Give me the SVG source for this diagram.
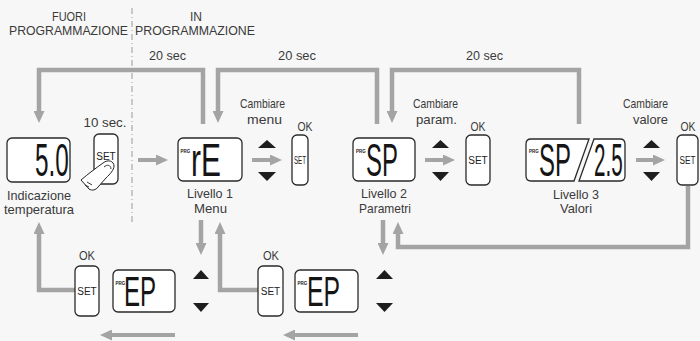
<svg xmlns="http://www.w3.org/2000/svg" width="700" height="341" viewBox="0 0 700 341">
<defs>
<style>
.lbl{font-family:"Liberation Sans",Arial,sans-serif;font-size:13px;fill:#3a3a3a;text-anchor:middle}
.set{font-family:"Liberation Sans",Arial,sans-serif;font-size:10px;fill:#222;text-anchor:middle}
.prg{font-family:"Liberation Sans",Arial,sans-serif;font-size:4.5px;font-weight:bold;fill:#222}
.seg{font-family:"Liberation Sans",Arial,sans-serif;font-size:46px;fill:#151515}
.seg2{font-family:"Liberation Sans",Arial,sans-serif;font-size:43px;fill:#151515}
.disp{fill:#fff;stroke:#2a2a2a;stroke-width:1.3}
.btn{fill:#fff;stroke:#2a2a2a;stroke-width:1.3}
.tri{fill:#1e1e1e}
.conn{fill:none;stroke:#a4a4a4;stroke-width:4.5;marker-end:url(#ah)}
.sm{stroke-width:4}
</style>
<marker id="ah" viewBox="0 0 12 11" refX="0.5" refY="5.5" markerWidth="12" markerHeight="11" markerUnits="userSpaceOnUse" orient="auto">
<path d="M0,0 L12,5.5 L0,11 Z" fill="#a4a4a4"/>
</marker>
</defs>
<rect width="700" height="341" fill="#f7f7f7"/>

<g id="header">
<line x1="132" y1="8" x2="132" y2="222" stroke="#9a9a9a" stroke-width="1" stroke-dasharray="6,3,1,3"/>
<text class="lbl" x="69" y="21" textLength="34" lengthAdjust="spacingAndGlyphs">FUORI</text>
<text class="lbl" x="68.5" y="35" textLength="119" lengthAdjust="spacingAndGlyphs">PROGRAMMAZIONE</text>
<text class="lbl" x="196" y="21" textLength="12" lengthAdjust="spacingAndGlyphs">IN</text>
<text class="lbl" x="195" y="35" textLength="120" lengthAdjust="spacingAndGlyphs">PROGRAMMAZIONE</text>
<text class="lbl" x="167.5" y="60" textLength="37" lengthAdjust="spacingAndGlyphs">20 sec</text>
<text class="lbl" x="297" y="60" textLength="38" lengthAdjust="spacingAndGlyphs">20 sec</text>
<text class="lbl" x="484.5" y="60" textLength="37" lengthAdjust="spacingAndGlyphs">20 sec</text>
</g>

<g id="connectors">
<path class="conn" d="M203,124 V70 H39 V111.5"/>
<path class="conn" d="M377,124 V70 H218 V111.5"/>
<path class="conn" d="M579,124 V70 H392 V111.5"/>
<path class="conn sm" d="M138,160 H156.5"/>
<path class="conn sm" d="M252,160 H270.5"/>
<path class="conn sm" d="M425,160 H443.5"/>
<path class="conn sm" d="M636,160 H653.5"/>
<path class="conn" d="M688,186 V247 H398 V233.5"/>
<path class="conn" d="M383,220 V243.5"/>
<path class="conn" d="M201,220 V243.5"/>
<path class="conn" d="M258,290 H220 V233.5"/>
<path class="conn" d="M75,290 H39 V233.5"/>
<path class="conn sm" d="M175,335 H111.5"/>
<path class="conn sm" d="M358,335 H294.5"/>
</g>

<g id="temp-display">
<rect class="disp" x="7" y="138" width="63" height="44" rx="5"/>
<text class="seg" transform="translate(35,176) scale(0.53,1)">5.0</text>
<text class="lbl" x="39" y="200" textLength="64" lengthAdjust="spacingAndGlyphs">Indicazione</text>
<text class="lbl" x="39" y="214" textLength="70" lengthAdjust="spacingAndGlyphs">temperatura</text>
</g>

<g id="set-press">
<text class="lbl" x="105" y="127" textLength="43" lengthAdjust="spacingAndGlyphs">10 sec.</text>
<rect class="btn" x="94" y="134" width="24" height="50" rx="5"/>
<text class="set" x="106" y="160">SET</text>
<path d="M81,180 C88,174 96,168 103,163 C108,159 114,161 114,166 C114,170 110,174 106,178 L98,187 C96,190 92,191 89,189 Z" fill="#fff" stroke="#222" stroke-width="1"/>
<path d="M104,167 C107,164 111,165 111,169" fill="none" stroke="#222" stroke-width="0.9"/>
<path d="M87,182 L92,185 M85,185 L89,187" fill="none" stroke="#222" stroke-width="0.9"/>
</g>

<g id="livello1">
<rect class="disp" x="178" y="138" width="64" height="43" rx="5"/>
<text class="prg" x="180.5" y="153">PRG</text>
<text class="seg" transform="translate(191,176) scale(0.65,1)">rE</text>
<text class="lbl" x="210" y="198" textLength="46" lengthAdjust="spacingAndGlyphs">Livello 1</text>
<text class="lbl" x="210.5" y="213" textLength="33" lengthAdjust="spacingAndGlyphs">Menu</text>
</g>

<g id="menu-ctrl">
<text class="lbl" x="262.5" y="108" textLength="45" lengthAdjust="spacingAndGlyphs">Cambiare</text>
<text class="lbl" x="264.5" y="124" textLength="35" lengthAdjust="spacingAndGlyphs">menu</text>
<polygon class="tri" points="258,148 276,148 267,140"/>
<polygon class="tri" points="258,172 276,172 267,181"/>
<text class="lbl" x="305" y="131" textLength="15" lengthAdjust="spacingAndGlyphs">OK</text>
<rect class="btn" x="292" y="135" width="16" height="50" rx="5"/>
<text class="set" x="300" y="163.5" textLength="12" lengthAdjust="spacingAndGlyphs">SET</text>
</g>

<g id="livello2">
<rect class="disp" x="353" y="138" width="62" height="43" rx="5"/>
<text class="prg" x="356" y="153">PRG</text>
<text class="seg" transform="translate(366,176) scale(0.52,1)">SP</text>
<text class="lbl" x="384" y="198" textLength="46" lengthAdjust="spacingAndGlyphs">Livello 2</text>
<text class="lbl" x="385" y="213" textLength="52" lengthAdjust="spacingAndGlyphs">Parametri</text>
</g>

<g id="param-ctrl">
<text class="lbl" x="435.5" y="108" textLength="45" lengthAdjust="spacingAndGlyphs">Cambiare</text>
<text class="lbl" x="436.5" y="124" textLength="41" lengthAdjust="spacingAndGlyphs">param.</text>
<polygon class="tri" points="432,148 449,148 440.5,140"/>
<polygon class="tri" points="432,172 449,172 440.5,181"/>
<text class="lbl" x="478" y="131" textLength="15" lengthAdjust="spacingAndGlyphs">OK</text>
<rect class="btn" x="466" y="135" width="24" height="50" rx="5"/>
<text class="set" x="478" y="163.5">SET</text>
</g>

<g id="livello3">
<path class="disp" d="M531,139 H589 L574,181 H531 Q526,181 526,176 V144 Q526,139 531,139 Z"/>
<path class="disp" d="M594,139 H620 Q625,139 625,144 V176 Q625,181 620,181 H579 Z"/>
<text class="prg" x="529" y="153">PRG</text>
<text class="seg" transform="translate(539,176) scale(0.52,1)">SP</text>
<text class="seg" transform="translate(594,176) scale(0.45,1)">2.5</text>
<text class="lbl" x="576" y="199" textLength="46" lengthAdjust="spacingAndGlyphs">Livello 3</text>
<text class="lbl" x="576" y="213" textLength="32" lengthAdjust="spacingAndGlyphs">Valori</text>
</g>

<g id="value-ctrl">
<text class="lbl" x="645.5" y="108" textLength="45" lengthAdjust="spacingAndGlyphs">Cambiare</text>
<text class="lbl" x="650.5" y="124" textLength="35" lengthAdjust="spacingAndGlyphs">valore</text>
<polygon class="tri" points="643,148 660,148 651.5,140"/>
<polygon class="tri" points="643,172 660,172 651.5,181"/>
<text class="lbl" x="688" y="131" textLength="15" lengthAdjust="spacingAndGlyphs">OK</text>
<rect class="btn" x="677" y="135" width="21" height="50" rx="5"/>
<text class="set" x="687.5" y="163.5" textLength="16" lengthAdjust="spacingAndGlyphs">SET</text>
</g>

<g id="exit1">
<text class="lbl" x="87" y="260" textLength="16" lengthAdjust="spacingAndGlyphs">OK</text>
<rect class="btn" x="75" y="266" width="24" height="50" rx="5"/>
<text class="set" x="87" y="294.5">SET</text>
<rect class="disp" x="113" y="270" width="62" height="42" rx="5"/>
<text class="prg" x="115.5" y="285">PRG</text>
<text class="seg2" transform="translate(124,306) scale(0.56,1)">EP</text>
<polygon class="tri" points="193,279 209,279 201,270"/>
<polygon class="tri" points="193,303 209,303 201,312"/>
</g>

<g id="exit2">
<text class="lbl" x="271" y="260" textLength="16" lengthAdjust="spacingAndGlyphs">OK</text>
<rect class="btn" x="258" y="266" width="25" height="50" rx="5"/>
<text class="set" x="270.5" y="294.5">SET</text>
<rect class="disp" x="295" y="270" width="63" height="42" rx="5"/>
<text class="prg" x="297.5" y="285">PRG</text>
<text class="seg2" transform="translate(307,306) scale(0.576,1)">EP</text>
<polygon class="tri" points="376,279 393,279 384.5,270"/>
<polygon class="tri" points="376,303 393,303 384.5,312"/>
</g>
</svg>
